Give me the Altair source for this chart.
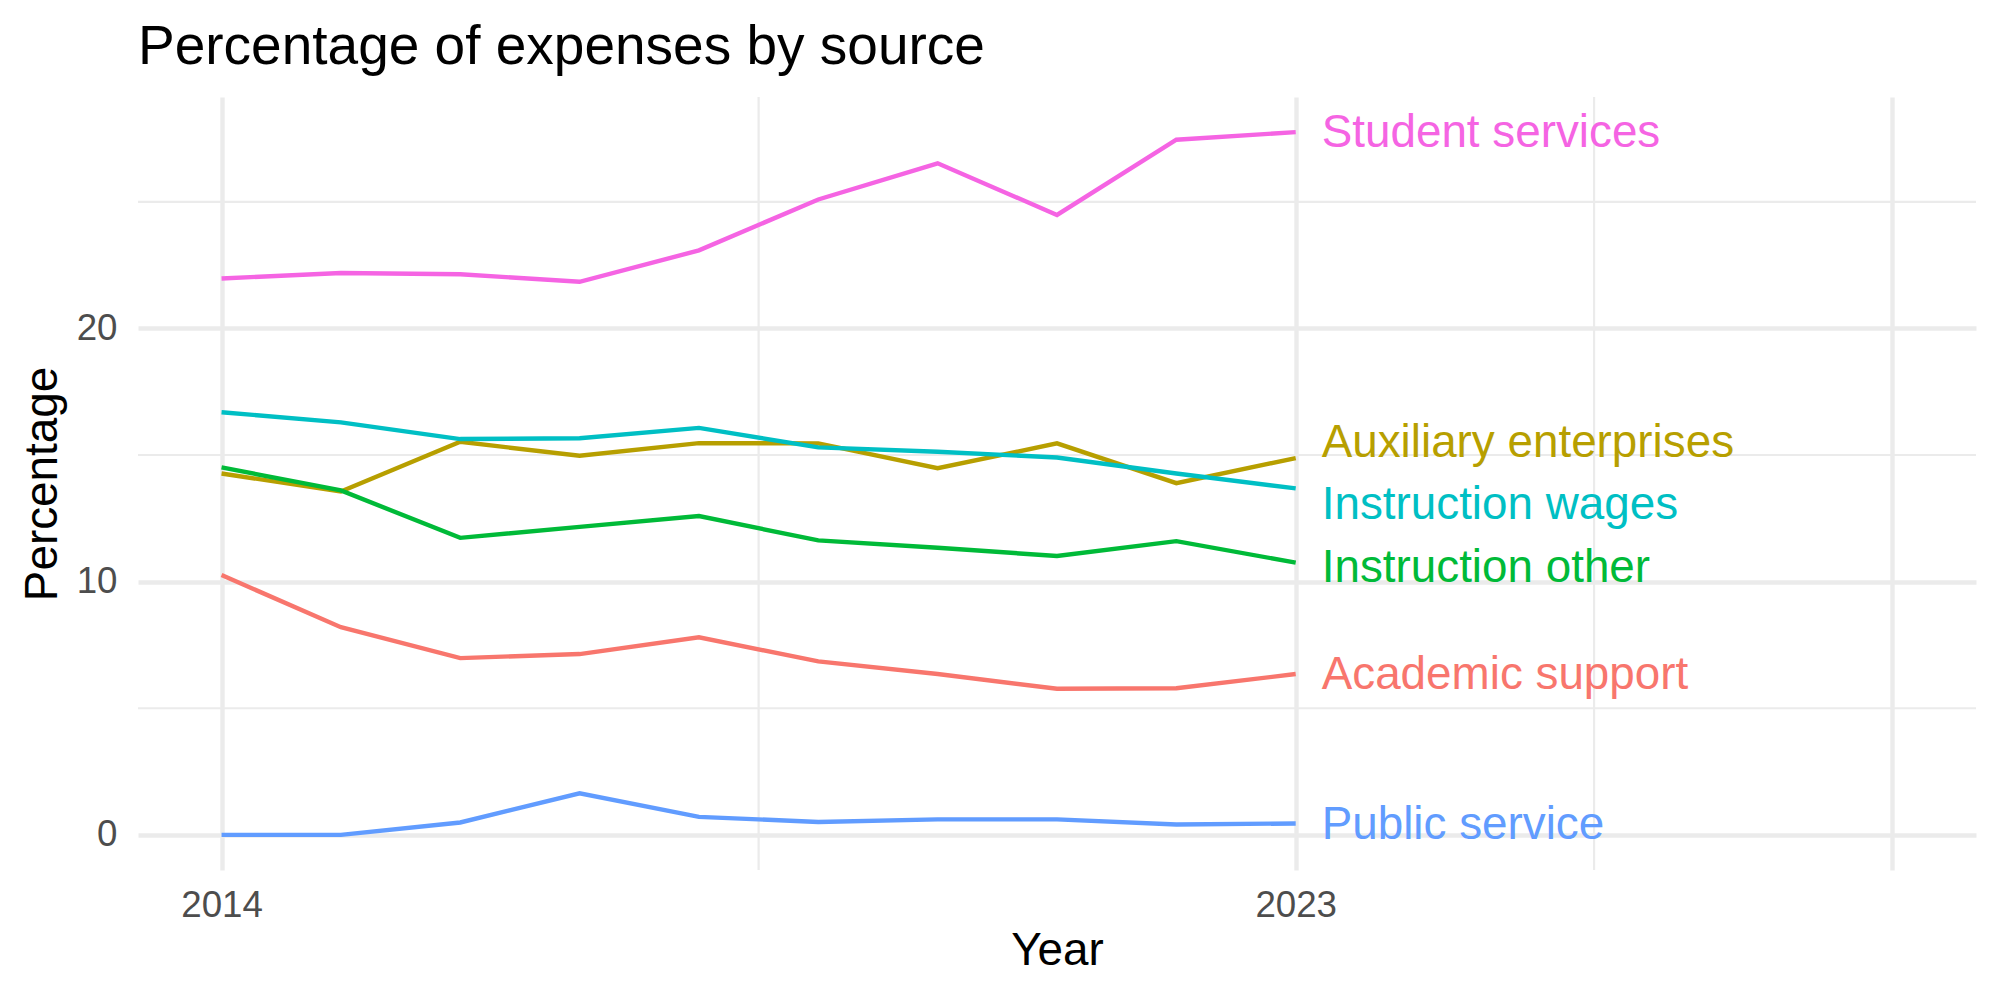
import altair as alt
import pandas as pd

# Share of expenses by source, 2014-2023
years = list(range(2014, 2024))
academic_support = [10.26, 8.20, 6.98, 7.14, 7.80, 6.85, 6.35, 5.77, 5.79, 6.35]
auxiliary_enterprises = [14.27, 13.56, 15.52, 14.97, 15.47, 15.46, 14.48, 15.46, 13.89, 14.88]
instruction_other = [14.51, 13.60, 11.73, 12.16, 12.59, 11.63, 11.34, 11.01, 11.60, 10.75]
instruction_wages = [16.69, 16.29, 15.63, 15.66, 16.07, 15.30, 15.13, 14.90, 14.27, 13.68]
public_service = [0.00, 0.00, 0.49, 1.64, 0.71, 0.51, 0.61, 0.61, 0.41, 0.45]
student_services = [21.97, 22.19, 22.14, 21.84, 23.08, 25.09, 26.52, 24.48, 27.45, 27.75]

sources = ["Academic support", "Auxiliary enterprises", "Instruction other",
           "Instruction wages", "Public service", "Student services"]
series = [academic_support, auxiliary_enterprises, instruction_other,
          instruction_wages, public_service, student_services]
palette = ["#F8766D", "#B79F00", "#00BA38", "#00BFC4", "#619CFF", "#F564E3"]

# vertical placement of the end labels (spread apart where lines crowd)
label_y = [6.33, 15.49, 10.54, 13.04, 0.40, 27.72]

x_major = [2014, 2023, 2028]
x_minor = [2018.5, 2025.5]
y_major = [0, 10, 20]
y_minor = [5, 15, 25]

rows = []
for name, vals in zip(sources, series):
    for yr, v in zip(years, vals):
        rows.append({"Year": yr, "Percentage": v, "Source": name})
df = pd.DataFrame(rows)

labels = pd.DataFrame({
    "Year": [years[-1]] * len(sources),
    "LabelY": label_y,
    "Source": sources,
})

FONT = "Liberation Sans"
GRID = "#EBEBEB"

x_scale = alt.Scale(domain=[2013.3, 2028.7], nice=False, zero=False)
y_scale = alt.Scale(domain=[-1.3875, 29.1375], nice=False, zero=False)
color_scale = alt.Scale(domain=sources, range=palette)

minor_x = alt.Chart(pd.DataFrame({"v": x_minor})).mark_rule(
    color=GRID, strokeWidth=2.2
).encode(x=alt.X("v:Q", scale=x_scale))

minor_y = alt.Chart(pd.DataFrame({"v": y_minor})).mark_rule(
    color=GRID, strokeWidth=2.2
).encode(y=alt.Y("v:Q", scale=y_scale))

lines = alt.Chart(df).mark_line(strokeWidth=4.4, strokeCap="butt").encode(
    x=alt.X("Year:Q", scale=x_scale, title="Year",
            axis=alt.Axis(values=x_major, format="d",
                          labelExpr="datum.value == 2028 ? '' : datum.label")),
    y=alt.Y("Percentage:Q", scale=y_scale, title="Percentage",
            axis=alt.Axis(values=y_major)),
    color=alt.Color("Source:N", scale=color_scale, legend=None),
)

text = alt.Chart(labels).mark_text(
    align="left", baseline="middle", dx=26, fontSize=45.8, font=FONT
).encode(
    x=alt.X("Year:Q", scale=x_scale),
    y=alt.Y("LabelY:Q", scale=y_scale),
    text="Source:N",
    color=alt.Color("Source:N", scale=color_scale, legend=None),
)

chart = alt.layer(minor_x, minor_y, lines, text).properties(
    width=1838,
    height=773,
    background="white",
    autosize=alt.AutoSizeParams(type="none"),
    padding={"left": 138, "top": 97, "right": 24, "bottom": 130},
    title=alt.TitleParams(
        "Percentage of expenses by source",
        anchor="start", font=FONT, fontSize=55, fontWeight="normal",
        color="black", offset=20, frame="group",
    ),
).configure_view(stroke=None).configure_axis(
    grid=True, gridColor=GRID, gridWidth=4.4,
    domain=False, ticks=False,
    labelFont=FONT, labelFontSize=36.7, labelColor="#4D4D4D",
    titleFont=FONT, titleFontSize=45.8, titleFontWeight="normal", titleColor="black",
).configure_axisY(
    labelPadding=21, titlePadding=10,
).configure_axisX(
    labelPadding=17, titlePadding=5,
)

chart.save("out.html", embed_options={"renderer": "svg", "actions": False})
